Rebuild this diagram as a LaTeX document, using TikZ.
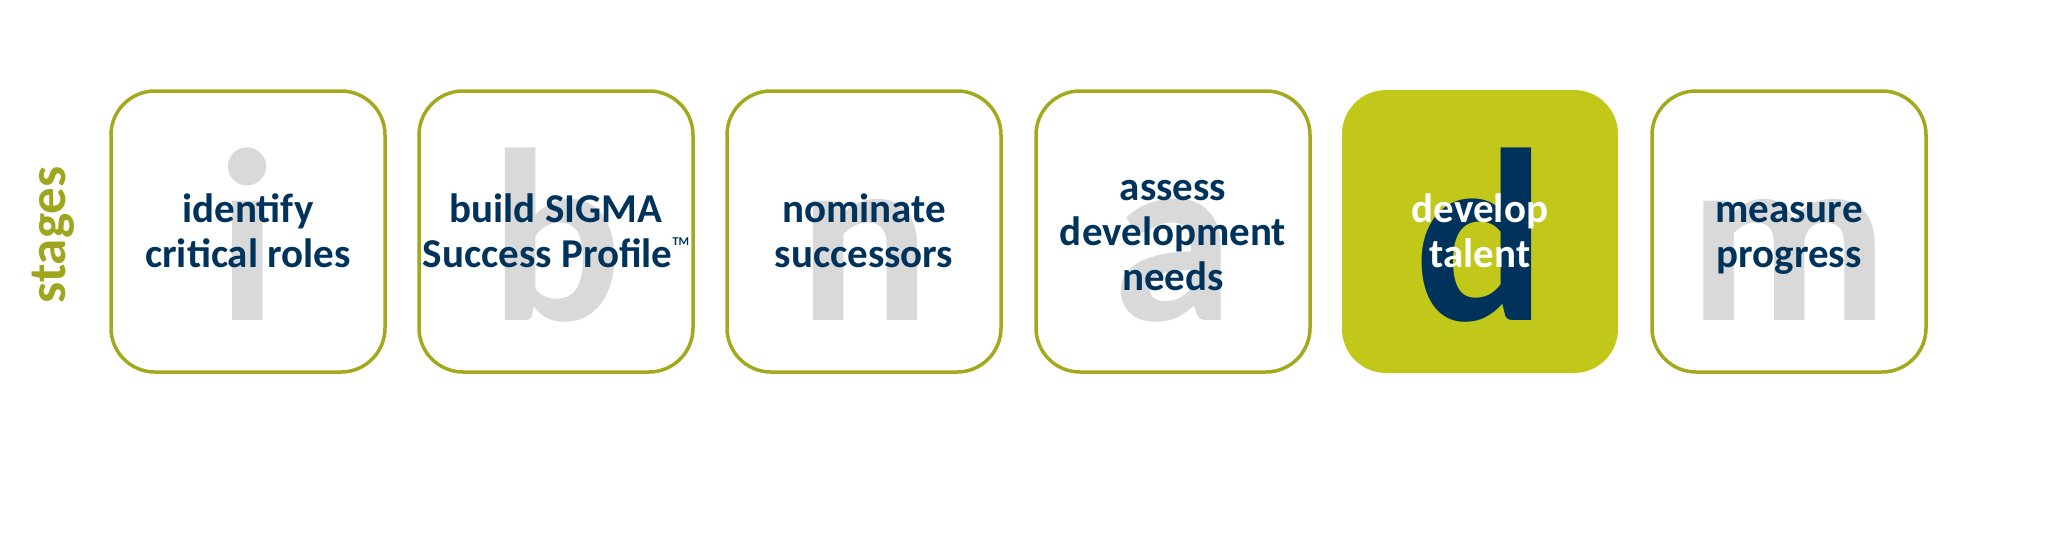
\documentclass[tikz,border=0pt]{standalone}
\usepackage{fontspec}
\setmainfont{Carlito}
\definecolor{olivebd}{RGB}{163,168,29}
\definecolor{olivefill}{RGB}{194,200,26}
\definecolor{olivetext}{RGB}{160,165,30}
\definecolor{navy}{RGB}{0,51,91}
\definecolor{lettergray}{RGB}{217,217,217}
\tikzset{
  stagebox/.style={draw=olivebd, line width=3.5pt, rounded corners=44pt},
  activebox/.style={fill=olivefill, rounded corners=44pt},
  bigletter/.style={anchor=base, inner sep=0pt, text=lettergray,
    font={\bfseries\fontsize{246}{246}\selectfont}},
  stagetext/.style={anchor=center, inner sep=0pt, align=center, text=navy,
    font={\bfseries\fontsize{41}{45}\selectfont}},
}
\begin{document}
\begin{tikzpicture}[x=1pt,y=-1pt]
\useasboundingbox (0,0) rectangle (2048,544);
% side label
\node[rotate=90, text=olivetext, inner sep=0pt, font={\bfseries\fontsize{53}{53}\selectfont}] (stg) at (53,235) {stages};
% boxes
\draw[stagebox] (111,91) rectangle (385,372);
\draw[stagebox] (419,91) rectangle (693,372);
\draw[stagebox] (727,91) rectangle (1001,372);
\draw[stagebox] (1036,91) rectangle (1310,372);
\fill[activebox] (1342,90) rectangle (1618,373);
\draw[stagebox] (1652,91) rectangle (1926,372);
% big letters
\node[bigletter] (li) at (248,320) {i};
\node[bigletter] (lb) at (556,320) {b};
\node[bigletter] (ln) at (864,320) {n};
\node[bigletter] (la) at (1173,320) {a};
\node[bigletter, text=navy] (ld) at (1480,320) {d};
\node[bigletter] (lm) at (1789,320) {m};
% texts
\node[stagetext] (t1) at (248,236) {\strut identify\\\strut critical roles};
\node[stagetext] (t2) at (556,236) {\strut build SIGMA\\\strut Success Profile\raisebox{22pt}{\fontsize{12}{12}\selectfont TM}};
\node[stagetext] (t3) at (864,236) {\strut nominate\\\strut successors};
\node[stagetext] (t4) at (1173,236) {\strut assess\\\strut development\\\strut needs};
\node[stagetext, text=white] (t5) at (1480,236) {\strut develop\\\strut talent};
\node[stagetext] (t6) at (1789,236) {\strut measure\\\strut progress};
\end{tikzpicture}
\end{document}
